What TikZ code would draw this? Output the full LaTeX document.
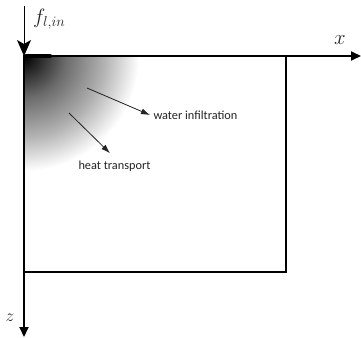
\documentclass[tikz,border=0pt]{standalone}
\usepackage{fontspec}
\newfontfamily\notefont{Carlito}
\usetikzlibrary{arrows.meta, positioning, calc}
\definecolor{notegray}{RGB}{35,35,35}
\pgfdeclareradialshading{soilfade}{\pgfpoint{0bp}{0bp}}{%
  color(0bp)=(black); color(9bp)=(black!58); color(17.5bp)=(black!30);
  color(22bp)=(black!12); color(25bp)=(white); color(50bp)=(white)}

\begin{document}
\begin{tikzpicture}[x=1pt, y=-1pt,
    every node/.style={font=\notefont\fontsize{12.3}{14}\selectfont, text=notegray},
    axis/.style={line width=1.8pt, -{Triangle[length=10pt, width=9pt]}},
    pointer/.style={line width=0.8pt, draw=notegray, -{Latex[length=9pt, width=6pt]}},
    mathlabel/.style={font=\fontsize{20}{22}\selectfont, inner sep=1pt}]
  \useasboundingbox (0,0) rectangle (361,337);
  % Corners of the domain
  \coordinate (o) at (24,56);
  \coordinate (c) at (286,272);
  \coordinate (xtip) at (361,56);
  \coordinate (ztip) at (24,337);
  \coordinate (ftop) at (24,6);
  % Soil shading from the top left corner
  \begin{scope}
    \clip (o) rectangle (c);
    \shade[shading=soilfade] (o) circle (115pt);
  \end{scope}
  % Domain and axes
  \draw[line width=1.5pt] (o) rectangle (c);
  \draw[axis] (o) -- (xtip);
  \draw[axis] (o) -- (ztip);
  \draw[line width=4.5pt, line cap=round] ($(o)+(2,0)$) -- ++(24,0);
  % Inflow at the corner
  \draw[line width=0.9pt, -{Stealth[length=16pt, width=14pt, inset=4pt]}] (ftop) -- (o);
  \node[mathlabel, anchor=west] (flab) at (32,19) {$f_{l,in}$};
  \node[mathlabel] (xlab) at (340,40) {$x$};
  \node[mathlabel, font=\fontsize{18}{20}\selectfont] (zlab) at (10,318) {$z$};
  % Notes
  \coordinate (wstart) at (87,88);
  \coordinate (hstart) at (69,113);
  \node[anchor=west] (water) at (150,115) {water infiltration};
  \node[anchor=west] (heat) at (75,166) {heat transport};
  \draw[pointer] (wstart) -- (water.west);
  \draw[pointer] (hstart) -- ($(heat.north west)+(35,-4)$);
\end{tikzpicture}
\end{document}
